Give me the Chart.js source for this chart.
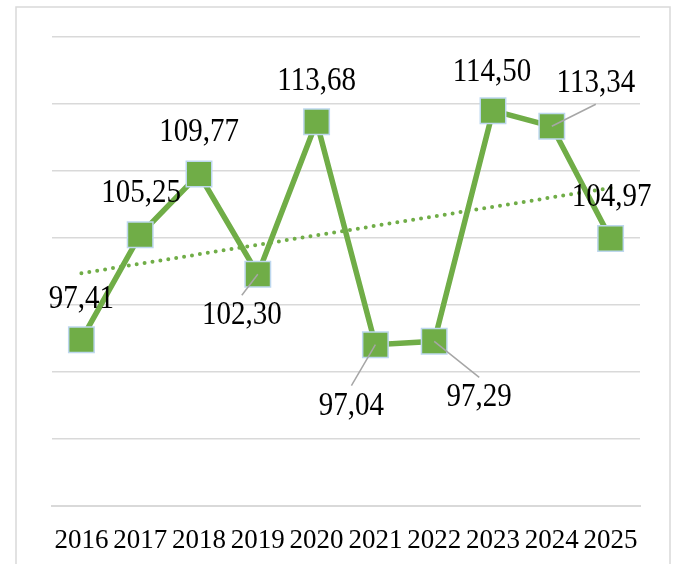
<!DOCTYPE html>
<html>
<head>
<meta charset="utf-8">
<script src="https://cdn.jsdelivr.net/npm/chart.js@4.4.1/dist/chart.umd.min.js"></script>
<style>
  html, body { margin: 0; padding: 0; background: #fff; }
  #wrap { width: 677px; height: 564px; }
</style>
</head>
<body>
<div id="wrap"><canvas id="chart" width="677" height="564"></canvas></div>
<script>
// chart data
const years = ['2016', '2017', '2018', '2019', '2020', '2021', '2022', '2023', '2024', '2025'];
const values = [97.41, 105.25, 109.77, 102.30, 113.68, 97.04, 97.29, 114.50, 113.34, 104.97];
const yMin = 85;
const yMax = 120;
const yStep = 5;

// label placement relative to each point: [dx, dy, leader line]
const labelOffsets = [
    [0, -41, false],
    [1, -42, false],
    [0, -42, false],
    [-16, 41, true],
    [0, -41, false],
    [-24, 61, true],
    [45, 56, true],
    [-1, -39, false],
    [44, -43, true],
    [1, -41, false]
];

const green = '#70AD47';

// linear trend line (least squares), like the spreadsheet's trendline
function linearTrend(ys) {
    const n = ys.length;
    const mx = (n - 1) / 2;
    const my = ys.reduce((a, b) => a + b, 0) / n;
    let num = 0, den = 0;
    ys.forEach((y, i) => { num += (i - mx) * (y - my); den += (i - mx) * (i - mx); });
    const slope = num / den;
    return ys.map((_, i) => my + slope * (i - mx));
}

const fmt = v => v.toFixed(2).replace('.', ',');

// outer frame
const framePlugin = {
    id: 'frame',
    beforeDraw(chart) {
        const ctx = chart.ctx;
        ctx.save();
        ctx.strokeStyle = '#D9D9D9';
        ctx.lineWidth = 1.5;
        ctx.strokeRect(16, 7, 654, 600);
        ctx.restore();
    }
};

// value labels with leader lines
const labelPlugin = {
    id: 'valueLabels',
    afterDatasetsDraw(chart) {
        const ctx = chart.ctx;
        const meta = chart.getDatasetMeta(0);
        ctx.save();
        meta.data.forEach((pt, i) => {
            const [dx, dy, leader] = labelOffsets[i];
            const cx = pt.x + dx;
            const cy = pt.y + dy;
            if (leader) {
                const ey = dy > 0 ? cy - 20 : cy + 21;
                ctx.beginPath();
                ctx.strokeStyle = '#A6A6A6';
                ctx.lineWidth = 1.5;
                ctx.moveTo(pt.x, pt.y);
                ctx.lineTo(cx, ey);
                ctx.stroke();
            }
            ctx.save();
            ctx.translate(cx, cy);
            ctx.scale(1, 1.18);
            ctx.fillStyle = '#000';
            ctx.font = '29px "Liberation Serif"';
            ctx.textAlign = 'center';
            ctx.textBaseline = 'middle';
            ctx.fillText(fmt(values[i]), 0, 0);
            ctx.restore();
        });
        ctx.restore();
    }
};

const ctx = document.getElementById('chart').getContext('2d');

new Chart(ctx, {
    type: 'line',
    data: {
        labels: years,
        datasets: [{
            data: values,
            borderColor: green,
            borderWidth: 5.5,
            tension: 0,
            pointStyle: 'rect',
            pointRadius: 18,
            pointHoverRadius: 18,
            pointBackgroundColor: green,
            pointBorderColor: '#BDD7EE',
            pointBorderWidth: 1.5
        }, {
            data: linearTrend(values),
            borderColor: green,
            borderWidth: 4,
            borderDash: [0, 8],
            borderCapStyle: 'round',
            pointRadius: 0,
            pointHoverRadius: 0,
            tension: 0
        }]
    },
    options: {
        responsive: false,
        animation: false,
        layout: {
            padding: { left: 52, right: 37, top: 37, bottom: 0 }
        },
        plugins: {
            legend: { display: false },
            tooltip: { enabled: false }
        },
        scales: {
            x: {
                offset: true,
                afterFit(scale) { scale.height = 58; },
                grid: { display: false, drawTicks: false },
                border: { display: true, color: '#D9D9D9', width: 2 },
                ticks: {
                    color: '#000',
                    padding: 19,
                    maxRotation: 0,
                    autoSkip: false,
                    font: { family: '"Liberation Serif"', size: 27 }
                }
            },
            y: {
                min: yMin,
                max: yMax,
                ticks: { display: false, stepSize: yStep },
                grid: { color: '#D9D9D9', lineWidth: 1.5, drawTicks: false },
                border: { display: false }
            }
        }
    },
    plugins: [framePlugin, labelPlugin]
});
</script>
</body>
</html>
